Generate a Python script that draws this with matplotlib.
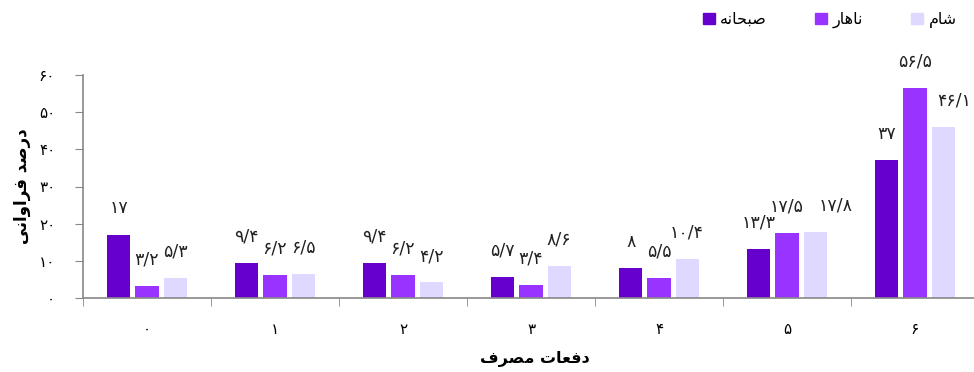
import numpy as np
import matplotlib.pyplot as plt
from matplotlib.patches import Patch

categories = [0, 1, 2, 3, 4, 5, 6]
breakfast = [17, 9.4, 9.4, 5.7, 8, 13.3, 37]
lunch = [3.2, 6.2, 6.2, 3.4, 5.5, 17.5, 56.5]
dinner = [5.3, 6.5, 4.2, 8.6, 10.4, 17.8, 46.1]
y_ticks = [0, 10, 20, 30, 40, 50, 60]

# Arabic text pre-shaped (presentation forms) in visual left-to-right order
name_breakfast = "\uFEEA\uFEE7\uFE8E\uFEA4\uFE92\uFEBB"   # صبحانه
name_lunch = "\uFEAD\uFE8E\uFEEB\uFE8E\uFEE7"             # ناهار
name_dinner = "\uFEE1\uFE8E\uFEB7"                        # شام
y_title = "\uFBFD\uFEE7\uFE8D\uFEED\uFE8D\uFEAE\uFED3 \uFEAA\uFEBB\uFEAD\uFEA9"  # درصد فراوانی
x_title = "\uFED1\uFEAE\uFEBC\uFEE3 \uFE95\uFE8E\uFECC\uFED3\uFEA9"            # دفعات مصرف

FA_DIGITS = str.maketrans("0123456789.", "۰۱۲۳۴۵۶۷۸۹/")


def fa(v):
    return format(v, "g").translate(FA_DIGITS)


colors = ["#6600CC", "#9933FF", "#E0D9FF"]
series = [breakfast, lunch, dinner]
names = [name_breakfast, name_lunch, name_dinner]
# label nudges (points) so crowded labels don't overlap, like the original
nudge = {(2, 5): 15, (2, 6): 8}

fig = plt.figure(figsize=(9.74, 3.72), dpi=100)
ax = fig.add_axes([83 / 974, 74 / 372, 896 / 974, 223 / 372])

x = np.arange(len(categories))
width = 0.18
offsets = [-0.22, 0, 0.22]
for si, (vals, off, col) in enumerate(zip(series, offsets, colors)):
    bars = ax.bar(x + off, vals, width, color=col)
    for ci, (b, v) in enumerate(zip(bars, vals)):
        ax.annotate(fa(v), (b.get_x() + b.get_width() / 2, v),
                    xytext=(nudge.get((si, ci), 0), 19),
                    textcoords="offset points", ha="center", va="center",
                    fontsize=12.5, color="#222222")

ax.set_xlim(-0.5, len(categories) - 0.5)
ax.set_ylim(0, 60)
ax.set_yticks(y_ticks)
ax.set_yticklabels([fa(t) for t in y_ticks], fontsize=11)
ax.set_xticks(x)
ax.set_xticklabels([fa(c) for c in categories], fontsize=11)
ax.set_xticks(np.arange(len(categories) + 1) - 0.5, minor=True)
ax.tick_params(axis="x", which="major", length=0, pad=17)
ax.tick_params(axis="x", which="minor", length=6, color="#888888")
ax.tick_params(axis="y", length=6, color="#888888", pad=14)

for s in ["top", "right"]:
    ax.spines[s].set_visible(False)
for s in ["left", "bottom"]:
    ax.spines[s].set_color("#888888")
    ax.spines[s].set_linewidth(1.2)

ax.set_ylabel(y_title, fontsize=12, fontweight="bold", labelpad=6)
fig.text(535 / 974, 0.035, x_title, ha="center", va="center",
         fontsize=11.5, fontweight="bold")

handles = [Patch(color=c, label=n) for c, n in zip(colors, names)]
fig.legend(handles=handles, loc="center right", ncol=3,
           bbox_to_anchor=(0.997, 0.946), frameon=False,
           fontsize=11.5, handlelength=0.75, handleheight=0.75,
           handletextpad=0.35, columnspacing=3.0)

fig.savefig("out.png", dpi=100)
